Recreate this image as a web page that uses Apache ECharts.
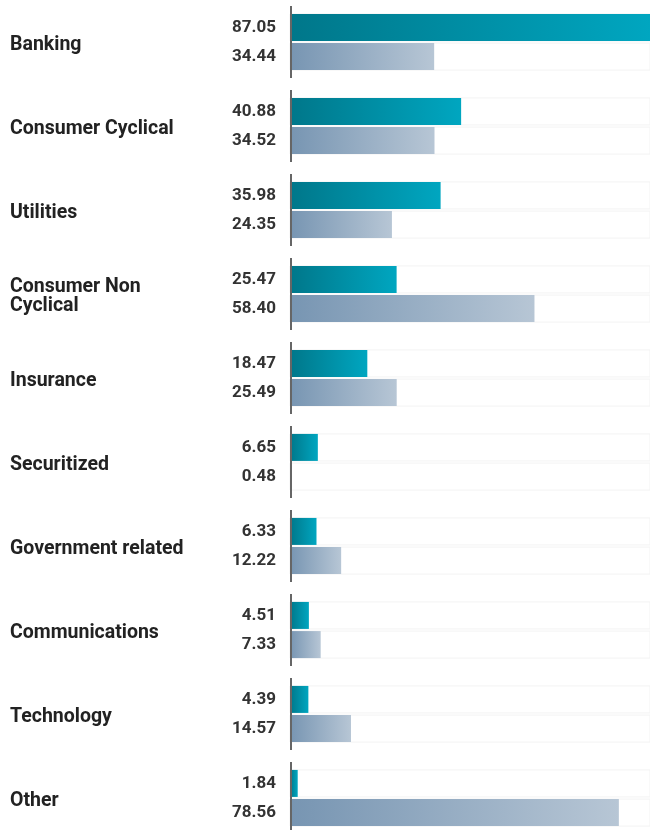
<!DOCTYPE html>
<html>
<head>
<meta charset="utf-8">
<script src="https://cdn.jsdelivr.net/npm/echarts@6/dist/echarts.min.js"></script>
<style>
  html, body { margin: 0; padding: 0; background: #fff; }
  #chart { width: 650px; height: 830px; }
</style>
</head>
<body>
<div id="chart"></div>
<script>
const categories = ['Banking', 'Consumer Cyclical', 'Utilities', 'Consumer Non\nCyclical', 'Insurance',
  'Securitized', 'Government related', 'Communications', 'Technology', 'Other']
const fundValues = [87.05, 40.88, 35.98, 25.47, 18.47, 6.65, 6.33, 4.51, 4.39, 1.84]
const benchValues = [34.44, 34.52, 24.35, 58.40, 25.49, 0.48, 12.22, 7.33, 14.57, 78.56]

const chart = echarts.init(document.getElementById('chart'))

const valueLabel = {
  show: true,
  position: 'left',
  distance: 14,
  fontFamily: 'Roboto',
  fontSize: 17,
  fontWeight: 'bold',
  color: '#333',
  formatter: p => p.value.toFixed(2)
}
const bgStyle = { color: '#ffffff', borderColor: '#f3f3f3', borderWidth: 1 }
const catFont = { fontFamily: 'Roboto', fontSize: 19.5, fontWeight: 'bold', color: '#222', lineHeight: 20 }

chart.setOption({
  animation: false,
  grid: { left: 290, right: 0, top: 0, bottom: -10, outerBoundsMode: 'none', containLabel: false },
  xAxis: {
    type: 'value',
    min: 0,
    max: 86,
    show: false
  },
  yAxis: {
    type: 'category',
    inverse: true,
    data: categories,
    axisLine: { show: false },
    axisTick: { show: false },
    axisLabel: Object.assign({
      align: 'left',
      margin: 280,
      // a little top padding so the names sit slightly below the band centre
      formatter: v => {
        const lines = v.split('\n')
        return lines.map((s, i) => (i === 0 ? '{a|' : '{b|') + s + '}').join('\n')
      },
      rich: {
        a: Object.assign({ padding: [7, 0, 0, 0] }, catFont),
        b: Object.assign({ padding: [4, 0, 0, 0] }, catFont)
      }
    }, catFont)
  },
  series: [
    {
      type: 'bar',
      data: fundValues,
      barWidth: 27,
      barGap: '8%',
      showBackground: true,
      backgroundStyle: bgStyle,
      itemStyle: {
        color: new echarts.graphic.LinearGradient(0, 0, 1, 0, [
          { offset: 0, color: '#00778a' },
          { offset: 1, color: '#00a6c0' }
        ])
      },
      label: valueLabel
    },
    {
      type: 'bar',
      data: benchValues,
      barWidth: 27,
      showBackground: true,
      backgroundStyle: bgStyle,
      itemStyle: {
        color: new echarts.graphic.LinearGradient(0, 0, 1, 0, [
          { offset: 0, color: '#7795b2' },
          { offset: 1, color: '#b7c6d5' }
        ])
      },
      label: valueLabel
    },
    {
      // short axis segment for each category
      type: 'custom',
      z: 5,
      data: categories.map((c, i) => [0, i]),
      encode: { x: 0, y: 1 },
      renderItem: (params, api) => {
        const pt = api.coord([0, api.value(1)])
        const h = api.size([0, 1])[1]
        return {
          type: 'line',
          shape: { x1: pt[0] + 1, y1: pt[1] - h * 0.43, x2: pt[0] + 1, y2: pt[1] + h * 0.43 },
          style: { stroke: '#666', lineWidth: 2 }
        }
      }
    }
  ]
})
</script>
</body>
</html>
